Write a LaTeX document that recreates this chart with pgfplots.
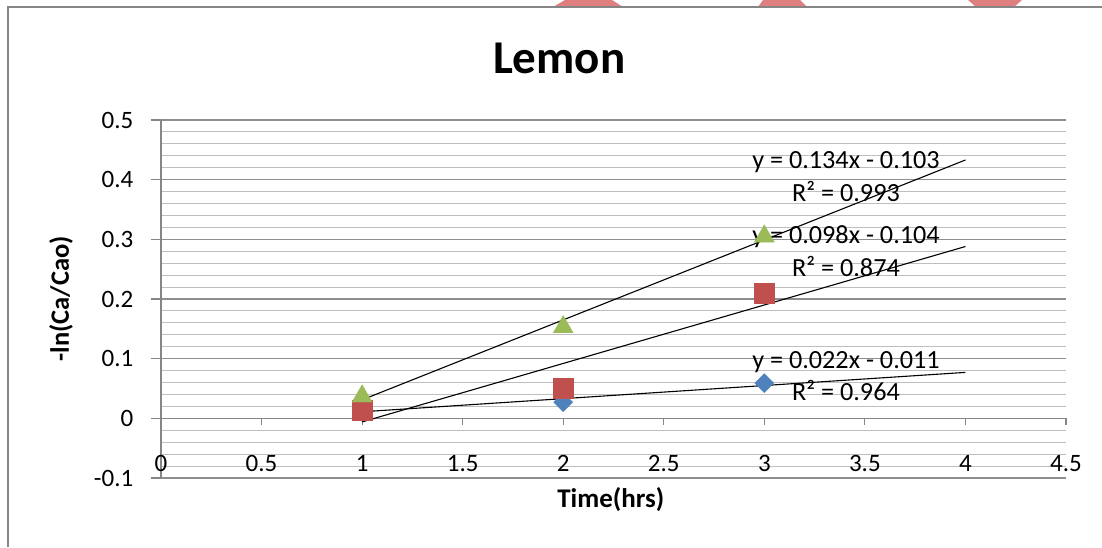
\documentclass[border=0pt]{standalone}
\usepackage{pgfplots}
\pgfplotsset{compat=1.18}
\usepackage{fontspec}
\setmainfont{Carlito}
\definecolor{xblue}{HTML}{4F81BD}
\definecolor{xred}{HTML}{C0504D}
\definecolor{xgreen}{HTML}{9BBB59}
\definecolor{xpink}{HTML}{E07F7F}
\definecolor{axgray}{HTML}{868686}
\definecolor{majgray}{HTML}{8E8E8E}
\definecolor{mingray}{HTML}{BEBEBE}
\begin{document}
\begin{tikzpicture}[x=1pt,y=1pt]
\useasboundingbox (0,0) rectangle (1102,547);
% decorations of the slide at the top
\fill[xpink] (565,547) -- (612,547) -- (623,540) -- (553,540) -- cycle;
\fill[xpink] (763,547) -- (800,547) -- (807,540) -- (758,540) -- cycle;
\fill[xpink] (968,547) -- (1022,547) -- (1014,540) -- (976,540) -- cycle;
\draw[axgray, line width=2pt] (7.5,0) -- (7.5,539.5) -- (1102,539.5);
\begin{axis}[
  at={(161pt,69pt)}, anchor=south west,
  scale only axis, width=905pt, height=358pt,
  xmin=0, xmax=4.5, ymin=-0.1, ymax=0.5,
  axis y line*=left, axis x line*=bottom,
  x axis line style={draw=none},
  y axis line style={axgray, line width=1.2pt},
  xtick={0,0.5,1,1.5,2,2.5,3,3.5,4,4.5},
  xticklabels={0,0.5,1,1.5,2,2.5,3,3.5,4,4.5},
  xtick style={draw=none},
  xticklabel style={anchor=center, yshift=24.5pt, font=\fontsize{25}{30}\selectfont},
  ytick={-0.1,0,0.1,0.2,0.3,0.4,0.5},
  yticklabels={-0.1,0,0.1,0.2,0.3,0.4,0.5},
  ytick style={axgray, line width=1.2pt},
  tick align=outside, major tick length=10pt, minor tick length=0pt,
  yticklabel style={font=\fontsize{25}{30}\selectfont, anchor=east, inner sep=0pt, xshift=-17.5pt},
  minor y tick num=4,
  ymajorgrids, yminorgrids,
  major grid style={majgray, line width=1.1pt},
  minor grid style={mingray, line width=1.1pt},
  xlabel={\bfseries Time(hrs)},
  xlabel style={font=\fontsize{27}{32}\selectfont, at={(axis description cs:0.497,-0.0615)}, anchor=center},
  ylabel={\bfseries -ln(Ca/Cao)},
  ylabel style={font=\fontsize{26.5}{32}\selectfont, at={(axis description cs:-0.1105,0.5)}, anchor=center, rotate=0},
  title={\bfseries Lemon},
  title style={font=\fontsize{47}{56}\selectfont, at={(axis description cs:0.44,1.1285)}, anchor=base, yshift=-6pt},
  clip=false,
]
\draw[axgray, line width=1.2pt] (axis cs:0,0) -- (axis cs:4.5,0);
\pgfplotsinvokeforeach{0.5,1,1.5,2,2.5,3,3.5,4,4.5}{
  \draw[axgray, line width=1.2pt] (axis cs:#1,0) -- ++(0pt,-7pt);
}
\addplot[only marks, mark=square*, mark size=6.7pt, color=xblue, mark options={rotate=45, draw=none, fill=xblue}]
  coordinates {(1,0.015) (2,0.027) (3,0.059)};
\addplot[only marks, mark=square*, mark size=10pt, color=xred, mark options={draw=none, fill=xred}]
  coordinates {(1,0.014) (2,0.050) (3,0.210)};
\addplot[only marks, mark=triangle*, mark size=11.5pt, color=xgreen, mark options={draw=none, fill=xgreen}]
  coordinates {(1,0.037) (2,0.153) (3,0.305)};
\addplot[black, line width=1.1pt, no marks] coordinates {(1,0.011) (4,0.077)};
\addplot[black, line width=1.1pt, no marks] coordinates {(1,-0.006) (4,0.288)};
\addplot[black, line width=1.1pt, no marks] coordinates {(1,0.031) (4,0.433)};
\node[anchor=base, font=\fontsize{26.2}{30}\selectfont] at (axis cs:3.406,0.419) {y = 0.134x - 0.103};
\node[anchor=base, font=\fontsize{26.2}{30}\selectfont] at (axis cs:3.406,0.3627) {R² = 0.993};
\node[anchor=base, font=\fontsize{26.2}{30}\selectfont] at (axis cs:3.406,0.2933) {y = 0.098x - 0.104};
\node[anchor=base, font=\fontsize{26.2}{30}\selectfont] at (axis cs:3.406,0.238) {R² = 0.874};
\node[anchor=base, font=\fontsize{26.2}{30}\selectfont] at (axis cs:3.406,0.0838) {y = 0.022x - 0.011};
\node[anchor=base, font=\fontsize{26.2}{30}\selectfont] at (axis cs:3.406,0.0293) {R² = 0.964};
\end{axis}
\end{tikzpicture}
\end{document}
